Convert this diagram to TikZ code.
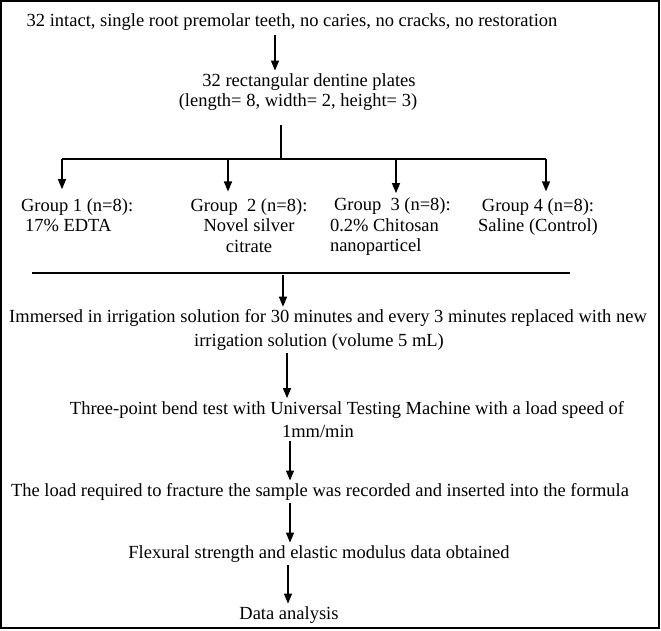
\documentclass[tikz,border=0pt]{standalone}
\usepackage{fontspec}
\setmainfont{Liberation Serif}
\usetikzlibrary{arrows.meta}

\tikzset{
  txt/.style={inner sep=3pt, outer sep=0pt, align=center, font=\fontsize{18.5}{20}\selectfont},
  grp/.style={txt, font=\fontsize{18.5}{20.5}\selectfont},
  stp/.style={txt, font=\fontsize{18.5}{23.5}\selectfont},
  ln/.style={line width=1.3pt},
  arr/.style={ln, -{Triangle[width=8pt,length=10pt]}}
}

\begin{document}
\begin{tikzpicture}[x=1pt, y=-1pt]
  \useasboundingbox (0,0) rectangle (661,631);
  \draw[line width=1.5pt] (1,1) rectangle (659,628);

  % samples
  \node[txt] (teeth) at (292,22) {32 intact, single root premolar teeth, no caries, no cracks, no restoration};
  \node[txt] (plates) at (298,92) {\hspace*{22pt}32 rectangular dentine plates\\(length= 8, width= 2, height= 3)};
  \draw[arr, shorten <=2pt] ([xshift=-17pt]teeth.south) -- ([xshift=-23pt]plates.north);

  % split into the four groups
  \coordinate (hub) at (281,159);
  \coordinate (b1) at (62,159);
  \coordinate (b2) at (228,159);
  \coordinate (b3) at (396,159);
  \coordinate (b4) at (546,159);
  \node[grp, align=left, anchor=west] (g1) at (18,215) {Group 1 (n=8):\\\hspace*{4pt}17\% EDTA};
  \node[grp] (g2) at (249,225.5) {Group\ \ 2 (n=8):\\Novel silver\\citrate};
  \node[grp, align=left, anchor=west] (g3) at (327,227) {\hspace*{4pt}Group\ \ 3 (n=8):\\0.2\% Chitosan\\nanoparticel};
  \node[grp] (g4) at (538,217) {Group 4 (n=8):\\Saline (Control)};
  \draw[ln, shorten <=12pt] (plates.south -| hub) -- (hub);
  \draw[ln] (b1) -- (b4);
  \draw[arr, shorten >=6pt] (b1) -- (b1 |- g1.north);
  \draw[arr, shorten >=4pt] (b2) -- (b2 |- g2.north);
  \draw[arr, shorten >=2pt] (b3) -- (b3 |- g3.north);
  \draw[arr, shorten >=4pt] (b4) -- (b4 |- g4.north);

  % groups joined again
  \coordinate (barL) at (32,273);
  \coordinate (barR) at (570,273);
  \coordinate (barM) at (283,273);
  \draw[ln] (barL) -- (barR);

  % procedure
  \node[stp] (soak) at (328,330) {Immersed in irrigation solution for 30 minutes and every 3 minutes replaced with new\\\hspace*{-18pt}irrigation solution (volume 5 mL)};
  \node[stp] (bend) at (347,419.5) {Three-point bend test with Universal Testing Machine with a load speed of\\\hspace*{-58pt}1mm/min};
  \node[txt] (load) at (320,492) {The load required to fracture the sample was recorded and inserted into the formula};
  \node[txt] (flex) at (319,554) {Flexural strength and elastic modulus data obtained};
  \node[txt] (data) at (289,615) {Data analysis};

  \draw[arr, shorten <=2pt] (barM) -- (barM |- soak.north);
  \draw[arr] ([xshift=-41pt]soak.south) -- ([xshift=-60pt]bend.north);
  \draw[arr] ([xshift=-57pt]bend.south) -- ([xshift=-30pt]load.north);
  \draw[arr] ([xshift=-30pt]load.south) -- ([xshift=-29pt]flex.north);
  \draw[arr] ([xshift=-31pt]flex.south) -- ([xshift=-1pt]data.north);
\end{tikzpicture}
\end{document}
